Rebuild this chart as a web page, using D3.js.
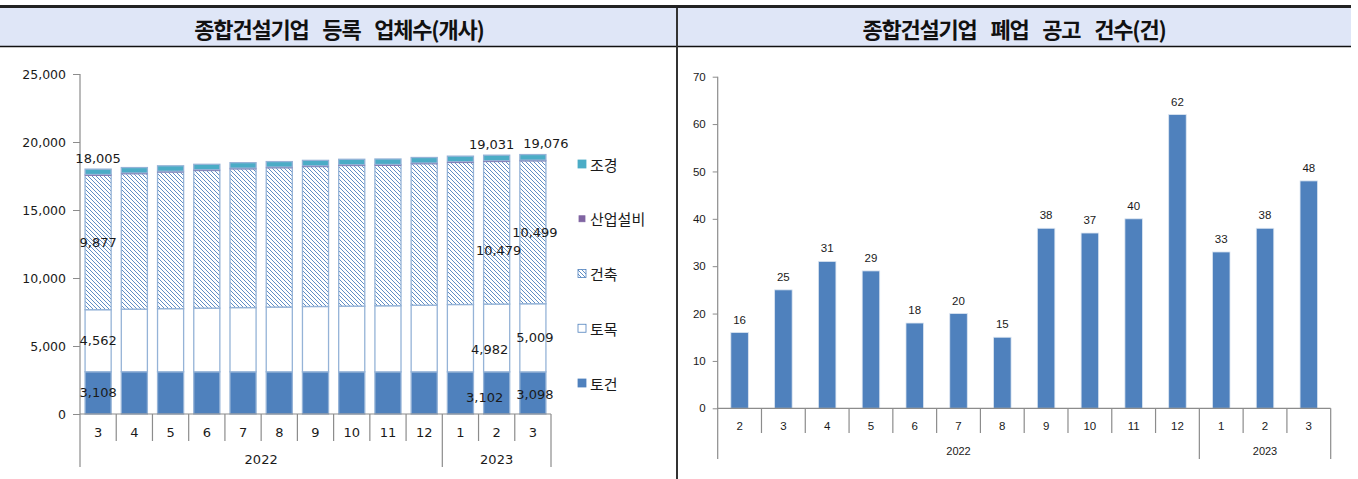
<!DOCTYPE html>
<html><head><meta charset="utf-8">
<script src="https://cdn.jsdelivr.net/npm/d3@7"></script>
<style>
body{margin:0;background:#fff;}
svg{display:block;}
</style></head>
<body>
<svg id="c" width="1358" height="479"></svg>
<script>
// ---------- DATA ----------
const leftTitle = "종합건설기업 등록 업체수(개사)";
const rightTitle = "종합건설기업 폐업 공고 건수(건)";

const monthsL = ["3","4","5","6","7","8","9","10","11","12","1","2","3"];
const yearGroupsL = [{year:"2022", from:0, to:9},{year:"2023", from:10, to:12}];
const seriesKeys = ["토건","토목","건축","산업설비","조경"];
const tojeon   = [3108,3110,3106,3105,3104,3103,3104,3102,3100,3101,3100,3102,3098];
const tomok    = [4562,4600,4640,4680,4720,4760,4800,4830,4860,4900,4950,4982,5009];
const geonchuk = [9877,9950,10043,10114,10194,10234,10282,10334,10325,10393,10443,10479,10499];
const sanup    = [65,65,65,64,64,64,64,64,64,64,65,65,65];
const jogyeong = [393,395,396,397,398,399,400,400,401,402,402,403,405];
const totals   = [18005,18120,18250,18360,18480,18560,18650,18730,18750,18860,18960,19031,19076];
const yTicksL = [0,5000,10000,15000,20000,25000];

const monthsR = ["2","3","4","5","6","7","8","9","10","11","12","1","2","3"];
const yearGroupsR = [{year:"2022", from:0, to:10},{year:"2023", from:11, to:13}];
const closures = [16,25,31,29,18,20,15,38,37,40,62,33,38,48];
const yTicksR = [0,10,20,30,40,50,60,70];

// labelled points: [seriesKey or "total", index]
const shownLabels = [["total",0],["건축",0],["토목",0],["토건",0],
                     ["total",11],["건축",11],["토목",11],["토건",11],
                     ["total",12],["건축",12],["토목",12],["토건",12]];
// manual label nudges (px), like the dragged labels in the source
const labelNudge = {"total-11":[-5,0],"total-12":[13,0],"건축-11":[2,18],"토목-11":[-7,12],"토건-11":[-12,5],"건축-12":[2,0],"토목-12":[2,0],"토건-12":[2,2]};

// ---------- DRAW ----------
const svg = d3.select("#c");
const fmt = d3.format(",");
const axisCol = "#8c8c8c";
const txtCol = "#1a1a1a";

// headers
svg.append("rect").attr("x",0).attr("y",8).attr("width",1351).attr("height",38).attr("fill","#dfe6f7");
svg.append("rect").attr("x",0).attr("y",5).attr("width",1351).attr("height",3).attr("fill","#222");
svg.append("line").attr("x1",0).attr("x2",1351).attr("y1",46.5).attr("y2",46.5).attr("stroke","#111").attr("stroke-width",1.3);
svg.append("line").attr("x1",677).attr("x2",677).attr("y1",8).attr("y2",479).attr("stroke","#333").attr("stroke-width",2);
[[leftTitle,339],[rightTitle,1014]].forEach(([t,x])=>{
  svg.append("text").attr("x",x).attr("y",28).attr("text-anchor","middle").attr("dominant-baseline","central")
    .attr("font-family","'Noto Sans CJK KR'").attr("font-weight","bold").attr("font-size",22)
    .attr("fill","#111").attr("letter-spacing","-1.2").attr("word-spacing","10").text(t);
});

// hatch pattern
const defs = svg.append("defs");
const pat = defs.append("pattern").attr("id","hatch").attr("patternUnits","userSpaceOnUse").attr("width",4).attr("height",4);
pat.append("rect").attr("width",4).attr("height",4).attr("fill","#fff");
pat.append("path").attr("d","M-1,-1 L5,5 M-1,3 L1,5 M3,-1 L5,1").attr("stroke","#4f81bd").attr("stroke-width",0.9);

// ----- LEFT CHART -----
const xL = d3.scaleBand().domain(d3.range(monthsL.length)).range([80,551]).paddingInner(0.28).paddingOuter(0.14);
const yL = d3.scaleLinear().domain([0,25000]).range([414,74]);
const rows = monthsL.map((m,i)=>({i, "토건":tojeon[i], "토목":tomok[i], "건축":geonchuk[i], "산업설비":sanup[i], "조경":jogyeong[i]}));
const stacked = d3.stack().keys(seriesKeys)(rows);
const fills = {"토건":"#4f81bd","토목":"#ffffff","건축":"url(#hatch)","산업설비":"#8064a2","조경":"#4bacc6"};

const gL = svg.append("g");
stacked.forEach(s=>{
  gL.selectAll(null).data(s).enter().append("rect")
    .attr("x",d=>xL(d.data.i)).attr("width",xL.bandwidth())
    .attr("y",d=>yL(d[1])).attr("height",d=>yL(d[0])-yL(d[1]))
    .attr("fill",fills[s.key])
    .attr("stroke", s.key==="산업설비" ? "#8064a2" : "#95b3d7").attr("stroke-width", s.key==="산업설비"?0.6:1.3);
});

// left axes
const yAxisL = d3.axisLeft(yL).tickValues(yTicksL).tickSize(7).tickFormat(fmt);
const gyL = svg.append("g").attr("transform","translate(80,0)").call(yAxisL);
gyL.select(".domain").remove();
gyL.selectAll(".tick line").attr("stroke",axisCol);
gyL.selectAll(".tick text").attr("x",-14).attr("font-family","'DejaVu Sans'").attr("font-size",12.5).attr("fill",txtCol);
svg.append("line").attr("x1",80).attr("x2",80).attr("y1",yL(25000)).attr("y2",467).attr("stroke",axisCol).attr("stroke-width",1.2);
svg.append("line").attr("x1",80).attr("x2",551).attr("y1",yL(0)).attr("y2",yL(0)).attr("stroke",axisCol).attr("stroke-width",1.2);
const stepL = xL.step();
const edgeL = i => xL(i) - xL.paddingOuter()*stepL; // left edge of category cell
d3.range(1,monthsL.length+1).forEach(i=>{
  const x = i<monthsL.length ? edgeL(i) : 551;
  const isGroupEdge = yearGroupsL.some(g=>g.to+1===i);
  svg.append("line").attr("x1",x).attr("x2",x).attr("y1",yL(0)).attr("y2",isGroupEdge?467:441).attr("stroke",axisCol).attr("stroke-width",1.2);
});
monthsL.forEach((m,i)=>{
  svg.append("text").attr("x",xL(i)+xL.bandwidth()/2).attr("y",432).attr("text-anchor","middle").attr("dominant-baseline","central")
    .attr("font-family","'DejaVu Sans'").attr("font-size",13).attr("fill",txtCol).text(m);
});
yearGroupsL.forEach(g=>{
  const x0 = edgeL(g.from), x1 = g.to+1<monthsL.length ? edgeL(g.to+1) : 551;
  svg.append("text").attr("x",(x0+x1)/2).attr("y",459).attr("text-anchor","middle").attr("dominant-baseline","central")
    .attr("font-family","'DejaVu Sans'").attr("font-size",13).attr("fill",txtCol).text(g.year);
});
// left data labels
shownLabels.forEach(([key,i])=>{
  let y, v;
  if(key==="total"){ v = totals[i]; y = yL(totals[i]) - 11; }
  else { const s = stacked.find(s=>s.key===key)[i]; v = s.data[key]; y = (yL(s[0])+yL(s[1]))/2; }
  const n = labelNudge[key+"-"+i] || [0,0];
  svg.append("text").attr("x",xL(i)+xL.bandwidth()/2+n[0]).attr("y",y+n[1]).attr("text-anchor","middle").attr("dominant-baseline","central")
    .attr("font-family","'DejaVu Sans'").attr("font-size",13).attr("fill",txtCol).text(fmt(v));
});
// legend
const legendOrder = ["조경","산업설비","건축","토목","토건"];
const legY = d3.scalePoint().domain(legendOrder).range([164,383]);
legendOrder.forEach(k=>{
  const y = legY(k);
  const big = k!=="산업설비";
  const sz = big?8:6;
  svg.append("rect").attr("x",582-sz/2).attr("y",y-sz/2).attr("width",sz).attr("height",sz)
    .attr("fill",fills[k]).attr("stroke",k==="산업설비"?"#8064a2":(k==="조경"?"#4bacc6":"#4f81bd")).attr("stroke-width",0.8);
  svg.append("text").attr("x",590).attr("y",y).attr("dominant-baseline","central")
    .attr("font-family","'Noto Sans CJK KR'").attr("font-size",15).attr("fill",txtCol).text(k);
});

// ----- RIGHT CHART -----
const xR = d3.scaleBand().domain(d3.range(monthsR.length)).range([717.7,1330.7]).paddingInner(0.6).paddingOuter(0.3);
const yR = d3.scaleLinear().domain([0,70]).range([408.3,76.7]);
svg.append("g").selectAll("rect").data(closures).enter().append("rect")
  .attr("x",(d,i)=>xR(i)).attr("width",xR.bandwidth())
  .attr("y",d=>yR(d)).attr("height",d=>yR(0)-yR(d))
  .attr("fill","#4f81bd").attr("stroke","#dbe5f1").attr("stroke-width",0.8);
const yAxisR = d3.axisLeft(yR).tickValues(yTicksR).tickSize(5);
const gyR = svg.append("g").attr("transform","translate(717.7,0)").call(yAxisR);
gyR.select(".domain").remove();
gyR.selectAll(".tick line").attr("stroke",axisCol);
gyR.selectAll(".tick text").attr("x",-12).attr("font-family","'Liberation Sans'").attr("font-size",11.5).attr("fill",txtCol);
svg.append("line").attr("x1",717.7).attr("x2",717.7).attr("y1",yR(70)).attr("y2",459).attr("stroke",axisCol).attr("stroke-width",1.2);
svg.append("line").attr("x1",717.7).attr("x2",1330.7).attr("y1",yR(0)).attr("y2",yR(0)).attr("stroke",axisCol).attr("stroke-width",1.2);
const stepR = xR.step();
const edgeR = i => xR(i) - xR.paddingOuter()*stepR;
d3.range(1,monthsR.length+1).forEach(i=>{
  const x = i<monthsR.length ? edgeR(i) : 1330.7;
  const isGroupEdge = yearGroupsR.some(g=>g.to+1===i);
  svg.append("line").attr("x1",x).attr("x2",x).attr("y1",yR(0)).attr("y2",isGroupEdge?459:433).attr("stroke",axisCol).attr("stroke-width",1.2);
});
monthsR.forEach((m,i)=>{
  svg.append("text").attr("x",xR(i)+xR.bandwidth()/2).attr("y",425.5).attr("text-anchor","middle").attr("dominant-baseline","central")
    .attr("font-family","'Liberation Sans'").attr("font-size",11.5).attr("fill",txtCol).text(m);
});
yearGroupsR.forEach(g=>{
  const x0 = edgeR(g.from), x1 = g.to+1<monthsR.length ? edgeR(g.to+1) : 1330.7;
  svg.append("text").attr("x",(x0+x1)/2).attr("y",450.5).attr("text-anchor","middle").attr("dominant-baseline","central")
    .attr("font-family","'Liberation Sans'").attr("font-size",11).attr("fill",txtCol).text(g.year);
});
closures.forEach((v,i)=>{
  svg.append("text").attr("x",xR(i)+xR.bandwidth()/2).attr("y",yR(v)-13).attr("text-anchor","middle").attr("dominant-baseline","central")
    .attr("font-family","'Liberation Sans'").attr("font-size",11.5).attr("fill",txtCol).text(v);
});
</script>
</body></html>
